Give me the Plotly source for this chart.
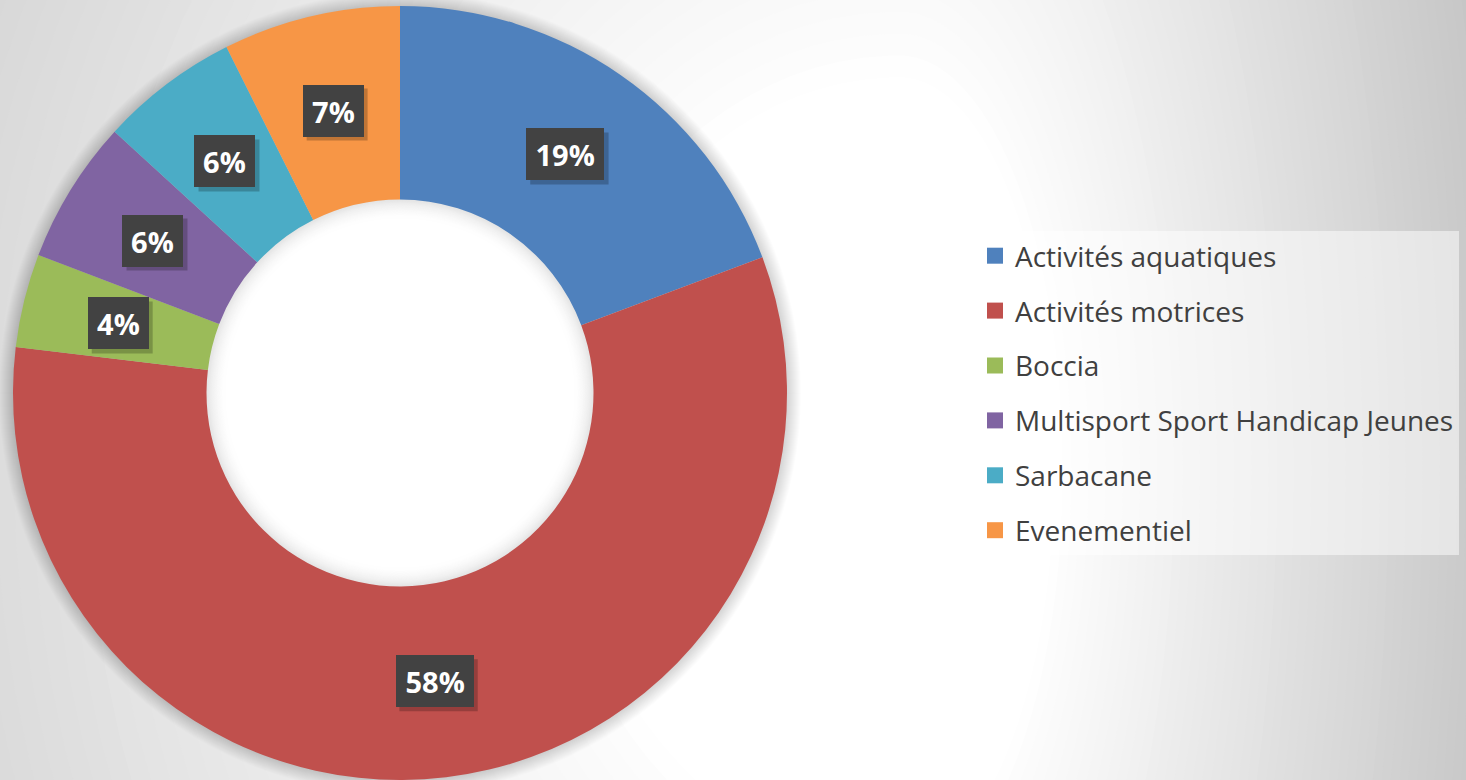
import math
import plotly.graph_objects as go

# ---------------- data ----------------
categories = [
    "Activités aquatiques",
    "Activités motrices",
    "Boccia",
    "Multisport Sport Handicap Jeunes",
    "Sarbacane",
    "Evenementiel",
]
values = [19.3, 57.6, 3.9, 6.0, 5.8, 7.4]
colors = ["#4F81BD", "#C0504D", "#9BBB59", "#8064A2", "#4BACC6", "#F79646"]

# ---------------- geometry ----------------
W, H = 1466, 780
HOLE = 0.5
dom_x = [13 / W, 787 / W]
dom_y = [0.0, 774 / H]
cx_px = (dom_x[0] + dom_x[1]) / 2 * W
cy_px = H - (dom_y[0] + dom_y[1]) / 2 * H
R = min((dom_x[1] - dom_x[0]) * W, (dom_y[1] - dom_y[0]) * H) / 2
r_in = R * HOLE


def to_paper(x, y):
    return x / W, 1 - y / H


def circle_shape(cx, cy, r, fill, layer="below"):
    x0, y0 = to_paper(cx - r, cy + r)
    x1, y1 = to_paper(cx + r, cy - r)
    return dict(type="circle", xref="paper", yref="paper", x0=x0, y0=y0, x1=x1, y1=y1,
                fillcolor=fill, line=dict(width=0), layer=layer)


shapes = []

# ---- background gradient (decorative) ----
g_cx, g_cy = 900, 470
kl, kr, ky = 0.65, 1.4, 0.55
d0, s = 200.0, 0.09
d_max, step = 900, 12


def col_at(d):
    v = 255 - s * max(0.0, d - d0)
    v = int(round(max(0, min(255, v))))
    return f"rgb({v},{v},{v})"


bg_color = col_at(d_max + step)
d = d_max
while d > d0 - step:
    pts = []
    n = 90
    for i in range(n):
        phi = 2 * math.pi * i / n
        c, sn = math.cos(phi), math.sin(phi)
        kx = kr if c >= 0 else kl
        px = g_cx + d * c / kx
        py = g_cy + d * sn / ky
        xp, yp = to_paper(px, py)
        pts.append(f"{xp:.5f},{yp:.5f}")
    path = "M" + " L".join(pts) + " Z"
    shapes.append(dict(type="path", xref="paper", yref="paper", path=path,
                       fillcolor=col_at(d - step), line=dict(width=0), layer="below"))
    d -= step

# ---- soft outer shadow of the ring ----
for k in range(14, 0, -1):
    shapes.append(circle_shape(cx_px, cy_px, R + k, "rgba(0,0,0,0.012)"))

# ---- hole: white with soft inner shadow (opaque graded rings) ----
N_SH = 22
for k in range(N_SH + 1):
    t = k / N_SH
    v = int(round(226 + (255 - 226) * (1 - (1 - t) ** 2)))
    shapes.append(circle_shape(cx_px, cy_px, r_in + 1 - k, f"rgb({v},{v},{v})"))

# ---------------- figure ----------------
fig = go.Figure()
fig.add_trace(go.Pie(
    labels=categories,
    values=values,
    hole=HOLE,
    sort=False,
    direction="clockwise",
    rotation=0,
    marker=dict(colors=colors, line=dict(width=0)),
    textinfo="none",
    hoverinfo="label+percent",
    showlegend=False,
    domain=dict(x=dom_x, y=dom_y),
))

# legend entries (one per category, for spacing control)
for i, (cat, colr) in enumerate(zip(categories, colors)):
    fig.add_trace(go.Scatter(
        x=[None], y=[None], mode="markers", name=cat,
        marker=dict(symbol="square", size=18, color=colr),
        legendgroup=f"g{i}", showlegend=True, hoverinfo="skip",
    ))

# ---- data labels as boxed annotations ----
LBL_SIZE = 29
PAD = 8
total = sum(values)
annotations = []
cum = 0.0
r_mid = (R + r_in) / 2
for v in values:
    mid = (cum + v / 2) / total * 2 * math.pi
    cum += v
    px = cx_px + r_mid * math.sin(mid)
    py = cy_px - r_mid * math.cos(mid)
    xp, yp = to_paper(px, py)
    txt = f"{round(v / total * 100)}%"
    n_dig = len(txt) - 1
    tw = 0.6 * LBL_SIZE * n_dig + 0.95 * LBL_SIZE
    th = 36
    bw, bh = tw + 2 * PAD, th + 2 * PAD
    # drop shadow of the label box
    sx0, sy0 = to_paper(px - bw / 2 + 4, py + bh / 2 + 4)
    sx1, sy1 = to_paper(px + bw / 2 + 4, py - bh / 2 + 4)
    shapes.append(dict(type="rect", xref="paper", yref="paper", x0=sx0, y0=sy0, x1=sx1, y1=sy1,
                       fillcolor="rgba(0,0,0,0.22)", line=dict(width=0), layer="above"))
    annotations.append(dict(
        x=xp, y=yp, xref="paper", yref="paper", text=txt, showarrow=False,
        xanchor="center", yanchor="middle", width=tw, height=th,
        font=dict(family="Open Sans", size=LBL_SIZE, color="#ffffff", weight=700),
        bgcolor="#424242", borderpad=PAD, borderwidth=0,
    ))

fig.update_layout(
    width=W, height=H,
    margin=dict(l=0, r=0, t=0, b=0),
    paper_bgcolor=bg_color,
    plot_bgcolor="rgba(0,0,0,0)",
    xaxis=dict(visible=False),
    yaxis=dict(visible=False),
    shapes=shapes,
    annotations=annotations,
    legend=dict(
        x=975 / W, y=1 - 231 / H, xanchor="left", yanchor="top",
        bgcolor="rgba(255,255,255,0.5)",
        borderwidth=0,
        font=dict(family="Open Sans", size=28, color="#404040"),
        tracegroupgap=15.5,
        itemclick=False, itemdoubleclick=False,
    ),
)

fig.write_html(
    "out.html",
    config={"displayModeBar": False},
    post_script="document.body.style.margin='0';document.body.style.overflow='hidden';",
)
